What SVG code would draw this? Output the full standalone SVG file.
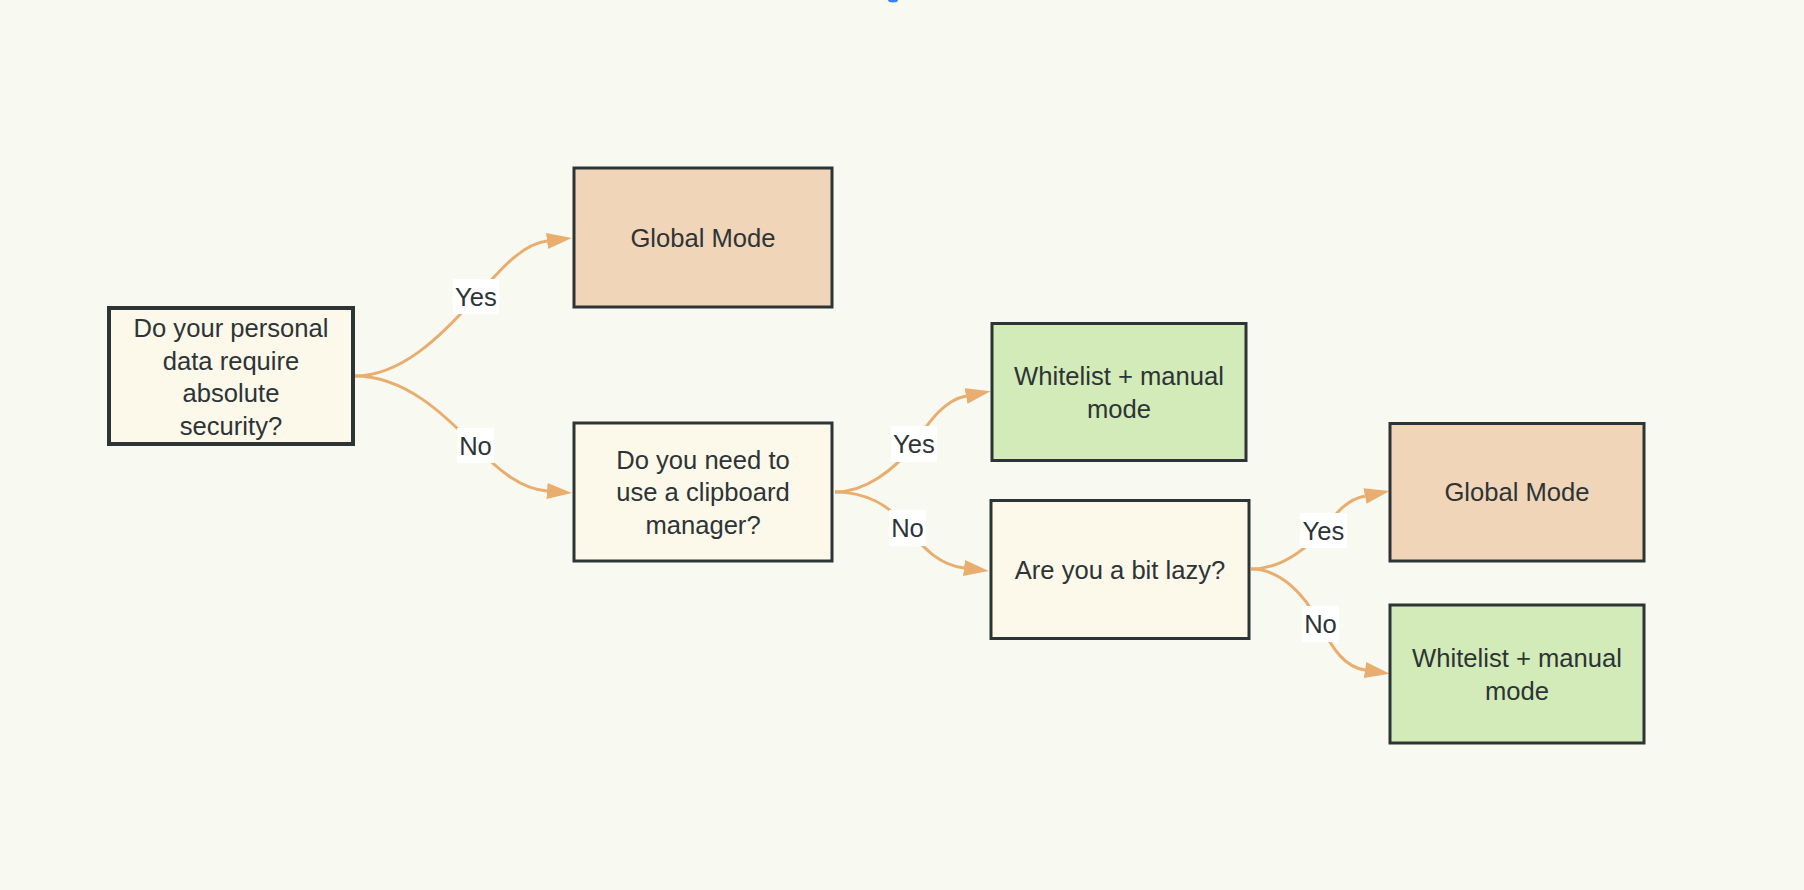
<svg xmlns="http://www.w3.org/2000/svg" width="1804" height="890" viewBox="0 0 1804 890">
<defs>
<style>
.node rect{stroke:#2d3436;stroke-width:3}
.q rect{fill:#fcf8ea}
.glob rect{fill:#f1d5b8}
.wl rect{fill:#d3ebb8}
.root rect{stroke-width:4}
text{font-family:"Liberation Sans",Arial,sans-serif;font-size:25.6px;fill:#2d3436;text-anchor:middle;dominant-baseline:central}
.edge{fill:none;stroke:#e9ae6f;stroke-width:3;marker-end:url(#arrow)}
.lbl rect{fill:#ffffff}
</style>
<marker id="arrow" viewBox="0 0 25 16" refX="0" refY="8" markerWidth="25" markerHeight="16" markerUnits="userSpaceOnUse" orient="auto">
<path d="M0,0 L25,8 L0,16 z" fill="#e9ae6f"/>
</marker>
</defs>
<rect width="1804" height="890" fill="#f8f9f0"/>
<ellipse cx="893" cy="0" rx="5" ry="2.5" fill="#3b82f6"/>
<g id="connectors">
<path class="edge" d="M355,376 C400,376 440,338 476,297 C500,270 522,244 547,241"/>
<path class="edge" d="M355,376 C405,376 445,415 475,446 C500,472 522,489 547,491"/>
<path class="edge" d="M835,492 C865,492 895,470 914,444 C930,420 945,400 966,396"/>
<path class="edge" d="M835,492 C865,492 890,505 907,528 C925,550 940,565 964,568"/>
<path class="edge" d="M1251,569 C1281,569 1305,550 1323,530 C1335,515 1345,500 1365,496"/>
<path class="edge" d="M1251,569 C1281,569 1305,595 1320,624 C1333,650 1345,667 1365,670"/>
<g class="lbl">
<rect x="453" y="279" width="46" height="35"/><text x="476" y="297">Yes</text>
<rect x="457" y="428" width="37" height="35"/><text x="475.5" y="446">No</text>
<rect x="891" y="426" width="46" height="36"/><text x="914" y="444">Yes</text>
<rect x="889" y="510" width="37" height="36"/><text x="907.5" y="528">No</text>
<rect x="1300" y="513" width="47" height="35"/><text x="1323.5" y="531">Yes</text>
<rect x="1302" y="606" width="37" height="36"/><text x="1320.5" y="624">No</text>
</g>
</g>
<g id="node-security" class="node q root">
<rect x="109" y="308" width="244" height="136"/>
<text x="231" y="328">Do your personal</text>
<text x="231" y="361">data require</text>
<text x="231" y="393">absolute</text>
<text x="231" y="426">security?</text>
</g>
<g id="node-global1" class="node glob">
<rect x="574" y="168" width="258" height="139"/>
<text x="703" y="238">Global Mode</text>
</g>
<g id="node-clipboard" class="node q">
<rect x="574" y="423" width="258" height="138"/>
<text x="703" y="460">Do you need to</text>
<text x="703" y="492">use a clipboard</text>
<text x="703" y="525">manager?</text>
</g>
<g id="node-whitelist1" class="node wl">
<rect x="992" y="323.5" width="254" height="137"/>
<text x="1119" y="376">Whitelist + manual</text>
<text x="1119" y="409">mode</text>
</g>
<g id="node-lazy" class="node q">
<rect x="991" y="500.5" width="258" height="138"/>
<text x="1120" y="570">Are you a bit lazy?</text>
</g>
<g id="node-global2" class="node glob">
<rect x="1390" y="423.5" width="254" height="137.5"/>
<text x="1517" y="492">Global Mode</text>
</g>
<g id="node-whitelist2" class="node wl">
<rect x="1390" y="605" width="254" height="138"/>
<text x="1517" y="658">Whitelist + manual</text>
<text x="1517" y="691">mode</text>
</g>
</svg>
